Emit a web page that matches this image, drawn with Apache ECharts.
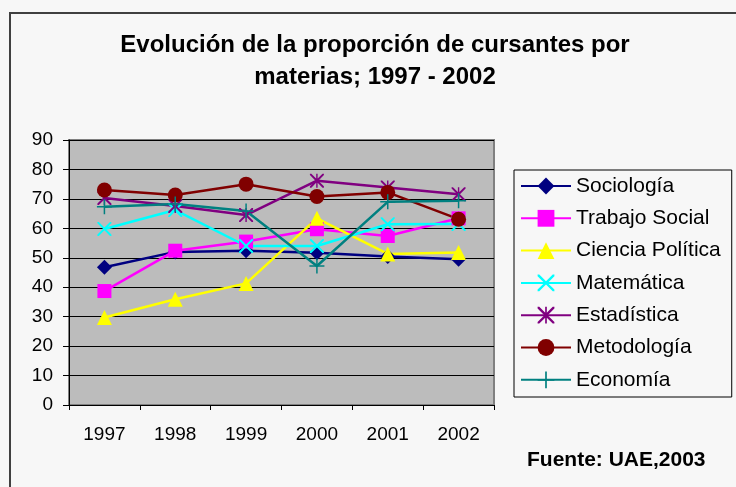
<!DOCTYPE html>
<html>
<head>
<meta charset="utf-8">
<script src="https://cdn.jsdelivr.net/npm/echarts@6/dist/echarts.min.js"></script>
<style>
  html, body { margin: 0; padding: 0; background: #f7f7f7; }
  #chart { width: 736px; height: 487px; }
</style>
</head>
<body>
<div id="chart"></div>
<script>
const years = ['1997', '1998', '1999', '2000', '2001', '2002']
const sociologia = [46.8, 52.0, 52.4, 51.7, 50.4, 49.5]
const trabajoSocial = [38.7, 52.4, 55.5, 59.7, 57.4, 63.4]
const cienciaPolitica = [29.7, 35.9, 41.3, 63.4, 51.3, 51.8]
const matematica = [59.8, 66.2, 54.0, 54.0, 61.4, 61.5]
const estadistica = [70.3, 67.6, 64.5, 76.2, 73.9, 71.6]
const metodologia = [73.0, 71.3, 75.0, 70.8, 72.2, 63.1]
const economia = [67.3, 68.3, 65.9, 47.2, 69.0, 69.4]

// symbols drawn as filled paths
const xMark = 'path://M0,0 L2,0 L10,8 L18,0 L20,0 L20,2 L12,10 L20,18 L20,20 L18,20 L10,12 L2,20 L0,20 L0,18 L8,10 L0,2 Z'
const starMark = xMark + ' M9,0 L11,0 L11,20 L9,20 Z'
const plusMark = 'path://M9,0 L11,0 L11,9 L20,9 L20,11 L11,11 L11,20 L9,20 L9,11 L0,11 L0,9 L9,9 Z'

const font = 'Arial, "Liberation Sans", sans-serif'

function makeSeries(name, data, color, symbol, size) {
  return {
    name: name,
    type: 'line',
    data: data,
    symbol: symbol,
    symbolSize: size,
    lineStyle: { color: color, width: 2.5 },
    itemStyle: { color: color },
    emphasis: { disabled: true },
    animation: false
  }
}

const chart = echarts.init(document.getElementById('chart'))
chart.setOption({
  backgroundColor: '#f7f7f7',
  textStyle: { fontFamily: font },
  graphic: [
    {
      type: 'rect',
      shape: { x: 10, y: 13, width: 800, height: 600 },
      style: { fill: 'none', stroke: '#404040', lineWidth: 2 },
      silent: true
    },
    {
      type: 'text',
      x: 375, y: 29,
      style: {
        text: 'Evolución de la proporción de cursantes por\nmaterias; 1997 - 2002',
        font: 'bold 24px ' + font,
        fill: '#000',
        textAlign: 'center',
        lineHeight: 32
      }
    },
    {
      type: 'text',
      x: 527, y: 460,
      style: {
        text: 'Fuente: UAE,2003',
        font: 'bold 21px ' + font,
        fill: '#000',
        textVerticalAlign: 'middle'
      }
    }
  ],
  grid: {
    left: 69, top: 140, width: 425, height: 265,
    show: true,
    backgroundColor: '#bcbcbc',
    borderColor: '#808080',
    borderWidth: 2
  },
  legend: {
    orient: 'vertical',
    left: 514, top: 170,
    padding: [5.5, 11, 6.7, 6],
    itemWidth: 50,
    itemHeight: 21,
    itemGap: 11.3,
    borderColor: '#000',
    borderWidth: 1,
    backgroundColor: '#f7f7f7',
    textStyle: { fontSize: 21, lineHeight: 21, color: '#000', fontFamily: font },
    selectedMode: false
  },
  xAxis: {
    type: 'category',
    data: years,
    boundaryGap: true,
    axisLine: { lineStyle: { color: '#000', width: 1 } },
    axisTick: { show: true, length: 5, lineStyle: { color: '#000' } },
    axisLabel: { fontSize: 19, color: '#000', margin: 20 }
  },
  yAxis: {
    type: 'value',
    min: 0, max: 90, interval: 10,
    axisLine: { show: true, lineStyle: { color: '#000', width: 1 } },
    axisTick: { show: true, length: 6, lineStyle: { color: '#000' } },
    axisLabel: { fontSize: 19, color: '#000', margin: 16 },
    splitLine: { lineStyle: { color: '#000', width: 1 } }
  },
  series: [
    makeSeries('Sociología', sociologia, '#000080', 'diamond', 15),
    makeSeries('Trabajo Social', trabajoSocial, '#ff00ff', 'rect', 14),
    makeSeries('Ciencia Política', cienciaPolitica, '#ffff00', 'triangle', 15),
    makeSeries('Matemática', matematica, '#00ffff', xMark, 14),
    makeSeries('Estadística', estadistica, '#800080', starMark, 14),
    makeSeries('Metodología', metodologia, '#800000', 'circle', 15),
    makeSeries('Economía', economia, '#008080', plusMark, 15)
  ]
})
</script>
</body>
</html>
